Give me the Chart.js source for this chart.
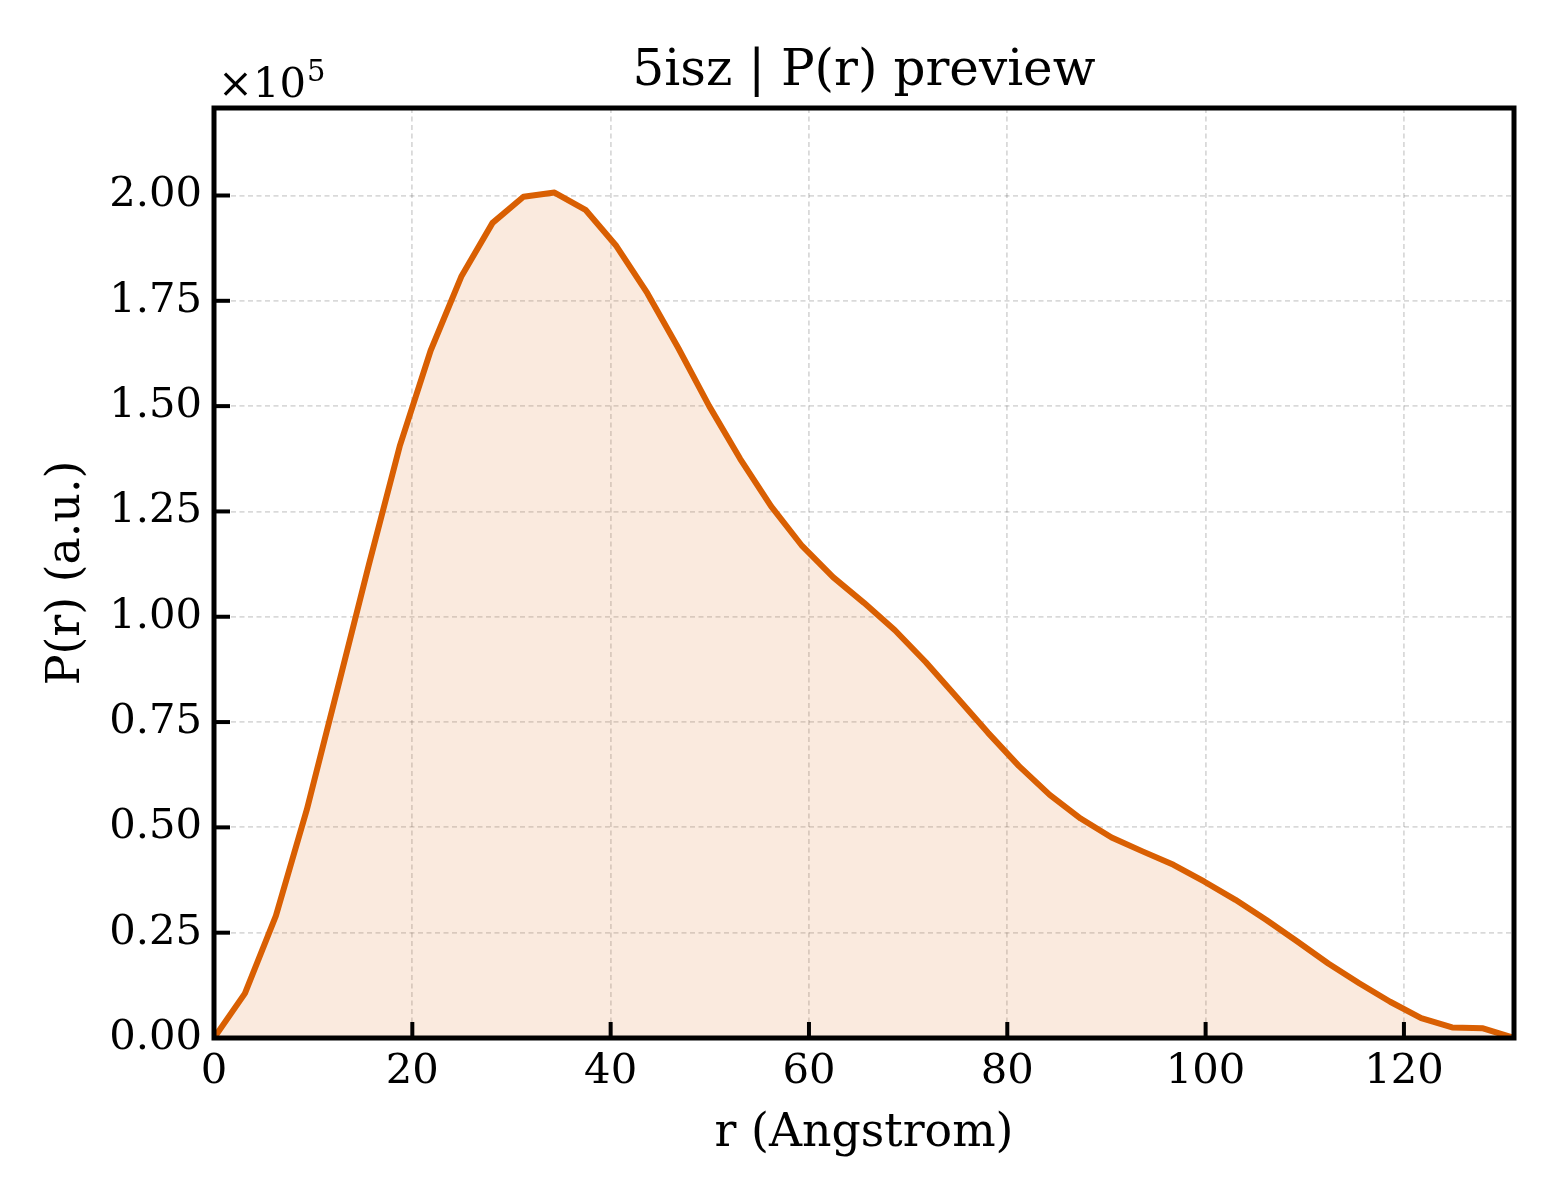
<!DOCTYPE html>
<html>
<head>
<meta charset="utf-8">
<script src="https://cdn.jsdelivr.net/npm/chart.js@4.4.1/dist/chart.umd.min.js"></script>
<style>
  html, body { margin: 0; padding: 0; background: #ffffff; }
</style>
</head>
<body>
<canvas id="c" width="1560" height="1200"></canvas>
<script>
// r values (Angstrom)
const rValues = [0, 3.12, 6.24, 9.36, 12.49, 15.61, 18.73, 21.85, 24.97, 28.09,
  31.21, 34.34, 37.46, 40.58, 43.70, 46.82, 49.94, 53.06, 56.19, 59.31,
  62.43, 65.55, 68.67, 71.79, 74.91, 78.04, 81.16, 84.28, 87.40, 90.52,
  93.64, 96.76, 99.89, 103.01, 106.13, 109.25, 112.37, 115.49, 118.61, 121.74,
  124.86, 127.98, 131.10];
// P(r) values (a.u.)
const prValues = [0, 10600, 29000, 54200, 83200, 112300, 140500, 163200, 180900, 193500,
  199700, 200700, 196600, 188000, 176800, 163800, 150000, 137500, 126200, 116800,
  109400, 103300, 96800, 89200, 80900, 72500, 64600, 57700, 52100, 47600,
  44300, 41100, 37100, 32800, 28000, 22900, 17700, 13000, 8600, 4700,
  2500, 2300, 0];
const xTickValues = [0, 20, 40, 60, 80, 100, 120];
const yTickValues = [0, 25000, 50000, 75000, 100000, 125000, 150000, 175000, 200000];
const yExponent = 5;
const titleText = '5isz | P(r) preview';
const xLabel = 'r (Angstrom)';
const yLabel = 'P(r) (a.u.)';

const SERIF = '"DejaVu Serif", "Liberation Serif", serif';
const LINE_COLOR = '#d95f02';
const FILL_COLOR = 'rgba(217,95,2,0.13)';
const GRID_COLOR = 'rgba(0,0,0,0.15)';

const framePlugin = {
  id: 'framePlugin',
  afterDraw(chart) {
    const c = chart.ctx;
    const a = chart.chartArea;
    const xs = chart.scales.x, ys = chart.scales.y;
    c.save();
    c.setLineDash([]);
    c.lineCap = 'butt';
    // inward ticks
    c.strokeStyle = '#000000';
    c.lineWidth = 4;
    xTickValues.forEach(v => {
      const px = xs.getPixelForValue(v);
      c.beginPath();
      c.moveTo(px, a.bottom);
      c.lineTo(px, a.bottom - 16);
      c.stroke();
    });
    yTickValues.forEach(v => {
      const py = ys.getPixelForValue(v);
      c.beginPath();
      c.moveTo(a.left, py);
      c.lineTo(a.left + 16, py);
      c.stroke();
    });
    // frame
    c.lineWidth = 5;
    c.strokeRect(a.left, a.top, a.right - a.left, a.bottom - a.top);
    // multiplier label
    c.fillStyle = '#000000';
    c.textBaseline = 'alphabetic';
    c.textAlign = 'left';
    c.font = '41.7px ' + SERIF;
    const base = '\u00d710';
    c.fillText(base, a.left + 4, 97);
    const w = c.measureText(base).width;
    c.font = '29px ' + SERIF;
    c.fillText(String(yExponent), a.left + 4 + w + 1, 81);
    // title
    c.font = '50px ' + SERIF;
    c.textAlign = 'center';
    c.fillText(titleText, (a.left + a.right) / 2, 85);
    c.restore();
  }
};

new Chart(document.getElementById('c').getContext('2d'), {
  type: 'line',
  data: {
    datasets: [{
      data: rValues.map((x, i) => ({ x: x, y: prValues[i] })),
      borderColor: LINE_COLOR,
      backgroundColor: FILL_COLOR,
      borderWidth: 6,
      fill: 'origin',
      pointRadius: 0,
      tension: 0,
      borderJoinStyle: 'round'
    }]
  },
  options: {
    responsive: false,
    devicePixelRatio: 1,
    animation: false,
    layout: { padding: { left: 0, right: 46, top: 108, bottom: 0 } },
    plugins: { legend: { display: false }, tooltip: { enabled: false } },
    scales: {
      x: {
        type: 'linear', min: 0, max: rValues[rValues.length - 1],
        afterFit(s) { s.height = 162; },
        afterBuildTicks(s) { s.ticks = xTickValues.map(v => ({ value: v })); },
        ticks: { color: '#000', font: { family: SERIF, size: 41.7 }, padding: 9, maxRotation: 0, autoSkip: false, callback: v => String(v) },
        grid: { color: GRID_COLOR, lineWidth: 1.8, drawTicks: false, tickLength: 0 },
        border: { display: false, dash: [5, 3.5] },
        title: { display: true, text: xLabel, color: '#000', font: { family: SERIF, size: 45.8 }, padding: { top: 0, bottom: 38 } }
      },
      y: {
        type: 'linear', min: 0, max: Math.max(...prValues) * 1.1,
        afterFit(s) { s.width = 214; },
        afterBuildTicks(s) { s.ticks = yTickValues.map(v => ({ value: v })); },
        ticks: { color: '#000', font: { family: SERIF, size: 41.7 }, padding: 12, autoSkip: false, callback: v => (v / Math.pow(10, yExponent)).toFixed(2) },
        grid: { color: GRID_COLOR, lineWidth: 1.8, drawTicks: false, tickLength: 0 },
        border: { display: false, dash: [5, 3.5] },
        title: { display: true, text: yLabel, color: '#000', font: { family: SERIF, size: 45.8 }, padding: { top: 40, bottom: 0 } }
      }
    }
  },
  plugins: [framePlugin]
});
</script>
</body>
</html>
